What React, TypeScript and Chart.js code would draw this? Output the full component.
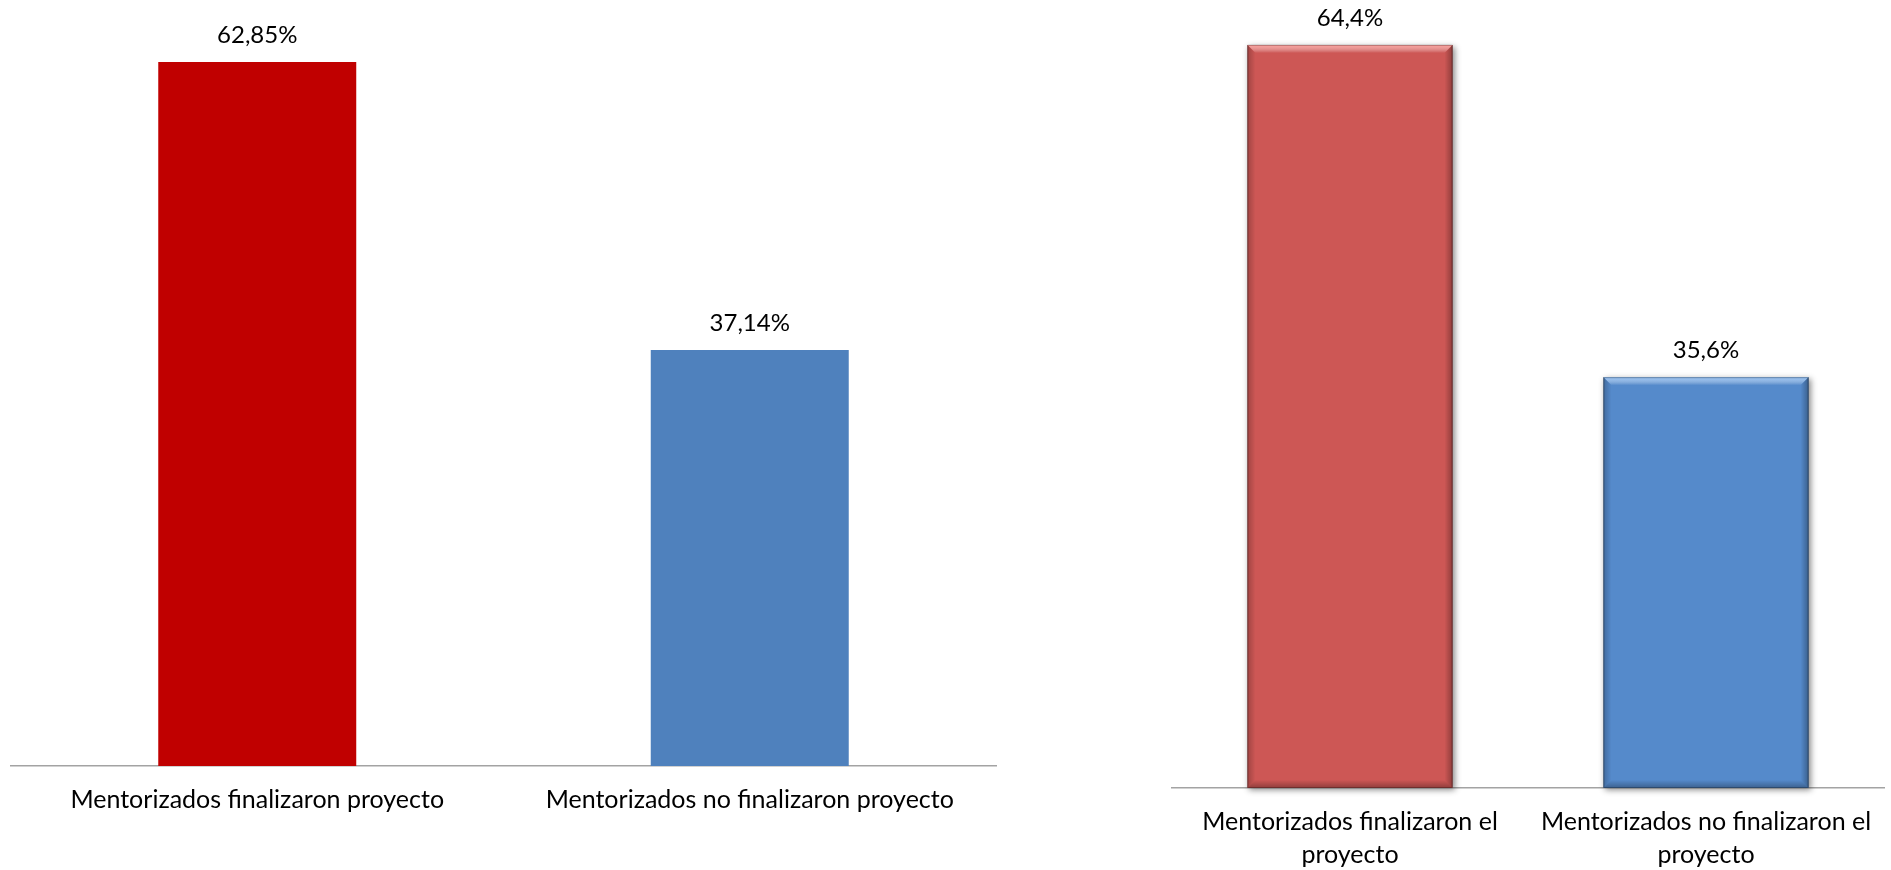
import { useEffect, useRef } from "react";
import { Chart, registerables } from "chart.js";

Chart.register(...registerables);

// Left panel
const leftCategories = ["Mentorizados finalizaron proyecto", "Mentorizados no finalizaron proyecto"];
const leftValues = [62.85, 37.14];
const leftValueLabels = ["62,85%", "37,14%"];
const leftColors = ["#C00000", "#4F81BD"];

// Right panel
const rightCategories = [
  ["Mentorizados finalizaron el", "proyecto"],
  ["Mentorizados no finalizaron el", "proyecto"],
];
const rightValues = [64.4, 35.6];
const rightValueLabels = ["64,4%", "35,6%"];
const rightColors = ["#CD5755", "#558ACB"];
const rightBevelLight = ["rgba(255,160,156,0.95)", "rgba(150,195,245,0.95)"];

const FONT = "Lato, 'Open Sans', sans-serif";
const VALUE_FONT_SIZE = 24;
const TICK_FONT_SIZE = 25;

// Writes the formatted value above each bar
const valueLabelPlugin = (labels: string[]) => ({
  id: "valueLabels",
  afterDatasetsDraw(chart: any) {
    const ctx = chart.ctx;
    const meta = chart.getDatasetMeta(0);
    ctx.save();
    ctx.font = `${VALUE_FONT_SIZE}px ${FONT}`;
    ctx.fillStyle = "#000000";
    ctx.textAlign = "center";
    ctx.textBaseline = "alphabetic";
    meta.data.forEach((bar: any, i: number) => {
      ctx.fillText(labels[i], bar.x, bar.y - 19);
    });
    ctx.restore();
  },
});

// Soft shadow behind the bars and bevelled edges on top of them
const bevelPlugin = (lights: string[]) => ({
  id: "bevel",
  beforeDatasetsDraw(chart: any) {
    const ctx = chart.ctx;
    const meta = chart.getDatasetMeta(0);
    ctx.save();
    meta.data.forEach((bar: any) => {
      const l = bar.x - bar.width / 2;
      ctx.shadowColor = "rgba(0,0,0,0.45)";
      ctx.shadowBlur = 6;
      ctx.shadowOffsetX = 2;
      ctx.shadowOffsetY = 2;
      ctx.fillStyle = "rgba(90,90,90,1)";
      ctx.fillRect(l, bar.y, bar.width, bar.base - bar.y);
    });
    ctx.restore();
  },
  afterDatasetsDraw(chart: any) {
    const ctx = chart.ctx;
    const meta = chart.getDatasetMeta(0);
    const b = 8;
    ctx.save();
    meta.data.forEach((bar: any, i: number) => {
      const l = bar.x - bar.width / 2;
      const r = bar.x + bar.width / 2;
      const t = bar.y;
      const bt = bar.base;
      // top bevel
      let g = ctx.createLinearGradient(0, t, 0, t + b);
      g.addColorStop(0, lights[i]);
      g.addColorStop(1, "rgba(255,255,255,0)");
      ctx.fillStyle = g;
      ctx.beginPath();
      ctx.moveTo(l, t);
      ctx.lineTo(r, t);
      ctx.lineTo(r - b, t + b);
      ctx.lineTo(l + b, t + b);
      ctx.closePath();
      ctx.fill();
      // left bevel
      g = ctx.createLinearGradient(l, 0, l + b, 0);
      g.addColorStop(0, "rgba(0,0,0,0.22)");
      g.addColorStop(1, "rgba(0,0,0,0)");
      ctx.fillStyle = g;
      ctx.beginPath();
      ctx.moveTo(l, t);
      ctx.lineTo(l + b, t + b);
      ctx.lineTo(l + b, bt - b);
      ctx.lineTo(l, bt);
      ctx.closePath();
      ctx.fill();
      // right bevel
      g = ctx.createLinearGradient(r, 0, r - b, 0);
      g.addColorStop(0, "rgba(0,0,0,0.3)");
      g.addColorStop(1, "rgba(0,0,0,0)");
      ctx.fillStyle = g;
      ctx.beginPath();
      ctx.moveTo(r, t);
      ctx.lineTo(r - b, t + b);
      ctx.lineTo(r - b, bt - b);
      ctx.lineTo(r, bt);
      ctx.closePath();
      ctx.fill();
      // bottom bevel
      g = ctx.createLinearGradient(0, bt, 0, bt - b);
      g.addColorStop(0, "rgba(0,0,0,0.3)");
      g.addColorStop(1, "rgba(0,0,0,0)");
      ctx.fillStyle = g;
      ctx.beginPath();
      ctx.moveTo(l, bt);
      ctx.lineTo(r, bt);
      ctx.lineTo(r - b, bt - b);
      ctx.lineTo(l + b, bt - b);
      ctx.closePath();
      ctx.fill();
      // thin dark outline
      ctx.strokeStyle = "rgba(0,0,0,0.25)";
      ctx.lineWidth = 1;
      ctx.strokeRect(l + 0.5, t + 0.5, bar.width - 1, bt - t - 1);
    });
    ctx.restore();
  },
});

type PanelProps = {
  left: number;
  width: number;
  categories: any[];
  values: number[];
  valueLabels: string[];
  colors: string[];
  barPercentage: number;
  padLeft: number;
  padRight: number;
  axisHeight: number;
  extraPlugins?: any[];
};

function BarPanel(p: PanelProps) {
  const ref = useRef<HTMLCanvasElement | null>(null);
  useEffect(() => {
    if (!ref.current) return;
    const chart = new Chart(ref.current, {
      type: "bar",
      data: {
        labels: p.categories,
        datasets: [
          {
            data: p.values,
            backgroundColor: p.colors,
            borderWidth: 0,
            barPercentage: p.barPercentage,
            categoryPercentage: 1,
          },
        ],
      },
      options: {
        animation: false,
        responsive: false,
        maintainAspectRatio: false,
        events: [],
        layout: { padding: { left: p.padLeft, right: p.padRight, top: 38, bottom: 0 } },
        plugins: { legend: { display: false }, tooltip: { enabled: false }, title: { display: false } },
        scales: {
          x: {
            grid: { display: false, drawTicks: false },
            border: { display: true, color: "#A3A3A3", width: 1.5 },
            ticks: {
              color: "#000000",
              font: { family: FONT, size: TICK_FONT_SIZE, lineHeight: 1.3 },
              padding: 18,
              maxRotation: 0,
              minRotation: 0,
              autoSkip: false,
            },
            afterFit: (scale: any) => {
              scale.height = p.axisHeight;
            },
          },
          y: { display: false, min: 0, max: 65 },
        },
      },
      plugins: [...(p.extraPlugins || []), valueLabelPlugin(p.valueLabels)],
    });
    return () => chart.destroy();
  }, []);
  return (
    <canvas
      ref={ref}
      width={p.width}
      height={870}
      style={{ position: "absolute", left: p.left, top: 0, width: p.width, height: 870 }}
    />
  );
}

export default function App() {
  return (
    <div style={{ position: "fixed", left: 0, top: 0, width: 1891, height: 870, background: "#ffffff", overflow: "hidden" }}>
      <BarPanel
        left={0}
        width={1000}
        categories={leftCategories}
        values={leftValues}
        valueLabels={leftValueLabels}
        colors={leftColors}
        barPercentage={0.402}
        padLeft={11}
        padRight={4}
        axisHeight={104}
      />
      <BarPanel
        left={1000}
        width={891}
        categories={rightCategories}
        values={rightValues}
        valueLabels={rightValueLabels}
        colors={rightColors}
        barPercentage={0.576}
        padLeft={172}
        padRight={7}
        axisHeight={82}
        extraPlugins={[bevelPlugin(rightBevelLight)]}
      />
    </div>
  );
}
